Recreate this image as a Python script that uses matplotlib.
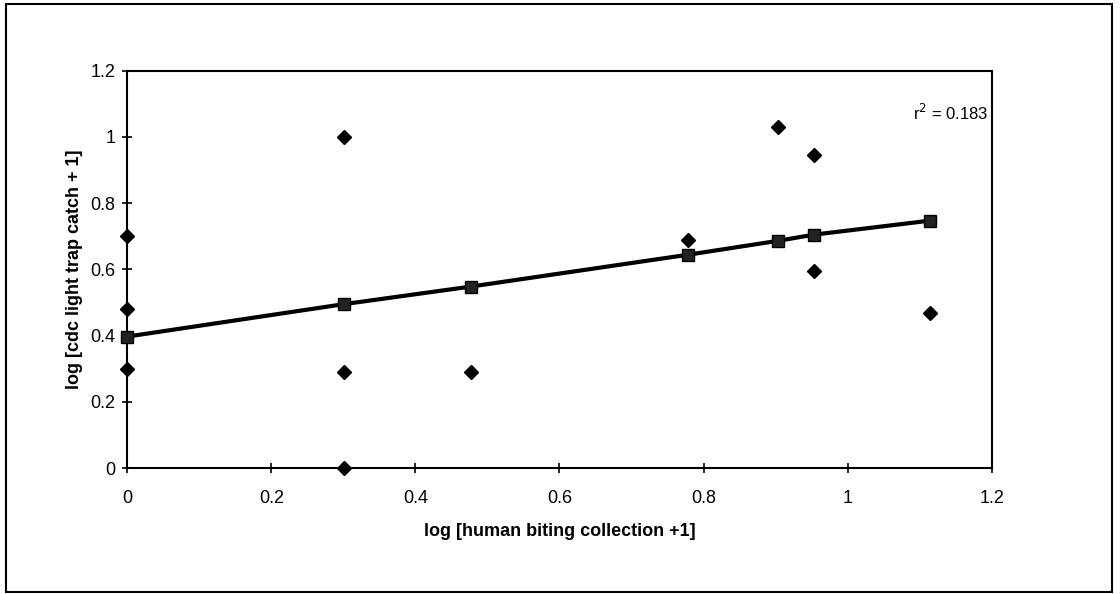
import numpy as np
import matplotlib
matplotlib.use('Agg')
import matplotlib.pyplot as plt
from matplotlib.patches import Rectangle

# observed points (diamonds)
obs_x = [0, 0, 0, 0.301, 0.301, 0.301, 0.477, 0.778, 0.903, 0.954, 0.954, 1.114]
obs_y = [0.70, 0.48, 0.30, 1.00, 0.29, 0.0, 0.29, 0.69, 1.03, 0.944, 0.594, 0.468]

# fitted line (squares)
fit_x = [0, 0.301, 0.477, 0.778, 0.903, 0.954, 1.114]
fit_y = [0.397, 0.495, 0.548, 0.644, 0.686, 0.705, 0.747]

x_ticks = [0, 0.2, 0.4, 0.6, 0.8, 1, 1.2]
y_ticks = [0, 0.2, 0.4, 0.6, 0.8, 1, 1.2]
tick_labels = ['0', '0.2', '0.4', '0.6', '0.8', '1', '1.2']

plt.rcParams['font.family'] = ['Liberation Sans', 'DejaVu Sans']

fig = plt.figure(figsize=(11.2, 5.94), dpi=100)
ax = fig.add_axes([0.1137, 0.2121, 0.7717, 0.6689])

# outer frame round the whole chart
fig.patches.append(Rectangle((6 / 1120, 2 / 594), 1106 / 1120, 588 / 594,
                             transform=fig.transFigure, fill=False,
                             edgecolor='black', linewidth=1.5))

ax.plot(fit_x, fit_y, color='black', linewidth=3, marker='s', markersize=8.5,
        markerfacecolor='#222222', markeredgecolor='black', zorder=3, clip_on=False)
ax.plot(obs_x, obs_y, linestyle='none', marker='D', markersize=7.5,
        color='black', zorder=4, clip_on=False)

ax.set_xlim(0, 1.2)
ax.set_ylim(0, 1.2)
ax.set_xticks(x_ticks)
ax.set_yticks(y_ticks)
ax.set_xticklabels(tick_labels)
ax.set_yticklabels(tick_labels)
ax.tick_params(direction='inout', length=7, width=1.2, labelsize=13)
ax.tick_params(axis='x', pad=12)
ax.tick_params(axis='y', pad=5)

for s in ax.spines.values():
    s.set_linewidth(1.5)

ax.set_xlabel('log [human biting collection +1]', fontsize=13, fontweight='bold', labelpad=12)
ax.set_ylabel('log [cdc light trap catch + 1]', fontsize=13, fontweight='bold', labelpad=5)

ax.text(1.195, 1.073, r'r$^2$ = 0.183', ha='right', va='center', fontsize=12)

fig.savefig('out.png', dpi=100)
